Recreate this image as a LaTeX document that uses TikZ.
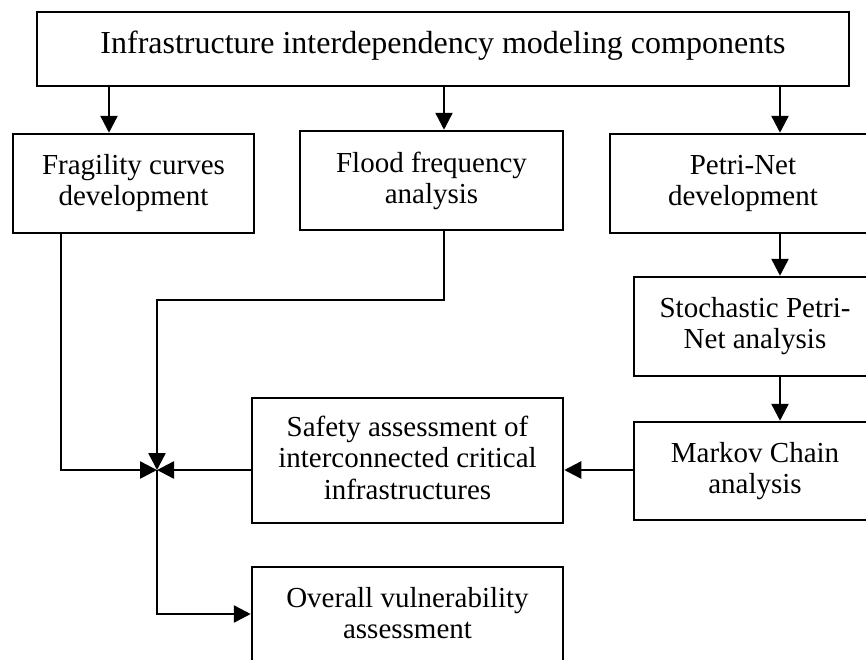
\documentclass[tikz,border=0pt]{standalone}
\usepackage{fontspec}
\setmainfont{Liberation Serif}
\usetikzlibrary{arrows.meta}
\begin{document}
\begin{tikzpicture}[x=1pt,y=-1pt,
  frame/.style={draw, line width=2.5pt, inner sep=0pt},
  box/.style={frame, align=center, font=\fontsize{29}{31}\selectfont},
  label text/.style={align=center, inner sep=0pt},
  link/.style={line width=2.5pt},
  arr/.style={link, -{Triangle[length=17pt,width=17pt]}}]
\path[use as bounding box] (0,0) rectangle (866,659);
\clip (0,0) rectangle (866,659);
\fill[white] (0,0) rectangle (866,659);

% boxes
\node[frame, minimum width=812pt, minimum height=74pt] (top) at (443,49) {};
\node[label text, font=\fontsize{32}{33}\selectfont] (topT) at (443,45.5)
  {Infrastructure interdependency modeling components};
\node[box, minimum width=241pt, minimum height=99pt] (frag) at (133.5,183.5)
  {Fragility curves\\development};
\node[box, minimum width=263pt, minimum height=99pt] (flood) at (431.5,180.5)
  {Flood frequency\\analysis};
\node[box, minimum width=266pt, minimum height=99pt] (petri) at (743,183.5)
  {Petri-Net\\development};
\node[box, minimum width=242pt, minimum height=99pt] (stoch) at (755,326.5)
  {Stochastic Petri-\\Net analysis};
\node[box, minimum width=242pt, minimum height=98pt] (markov) at (755,471)
  {Markov Chain\\analysis};
\node[frame, minimum width=311pt, minimum height=125pt] (safety) at (407.5,460.5) {};
\node[label text, font=\fontsize{29}{31.5}\selectfont] (safetyT) at (407.5,457.6)
  {Safety assessment of\\interconnected critical\\infrastructures};
\node[frame, minimum width=311pt, minimum height=99pt] (overall) at (407.5,616.5) {};
\node[label text, font=\fontsize{29}{31}\selectfont] (overallT) at (407.5,612.6)
  {Overall vulnerability\\assessment};

% column positions and junctions
\coordinate (c1) at (109,0);
\coordinate (c2) at (444,0);
\coordinate (c3) at (780,0);
\coordinate (cf) at (61,0);
\coordinate (J) at (157,470);
\coordinate (bend) at (157,300);
\coordinate (K) at (157,614);

% connectors
\draw[arr] (c1 |- top.south) -- (c1 |- frag.north);
\draw[arr] (c2 |- top.south) -- (c2 |- flood.north);
\draw[arr] (c3 |- top.south) -- (c3 |- petri.north);
\draw[arr] (c3 |- petri.south) -- (c3 |- stoch.north);
\draw[arr] (c3 |- stoch.south) -- (c3 |- markov.north);
\draw[arr] (markov.west |- J) -- (safety.east |- J);
\draw[arr] (safety.west |- J) -- (J);
\draw[arr] (cf |- frag.south) |- (J);
\draw[arr] (c2 |- flood.south) |- (bend) -- (J);
\draw[arr] (J) -- (K) -- (K -| overall.west);
\end{tikzpicture}
\end{document}
